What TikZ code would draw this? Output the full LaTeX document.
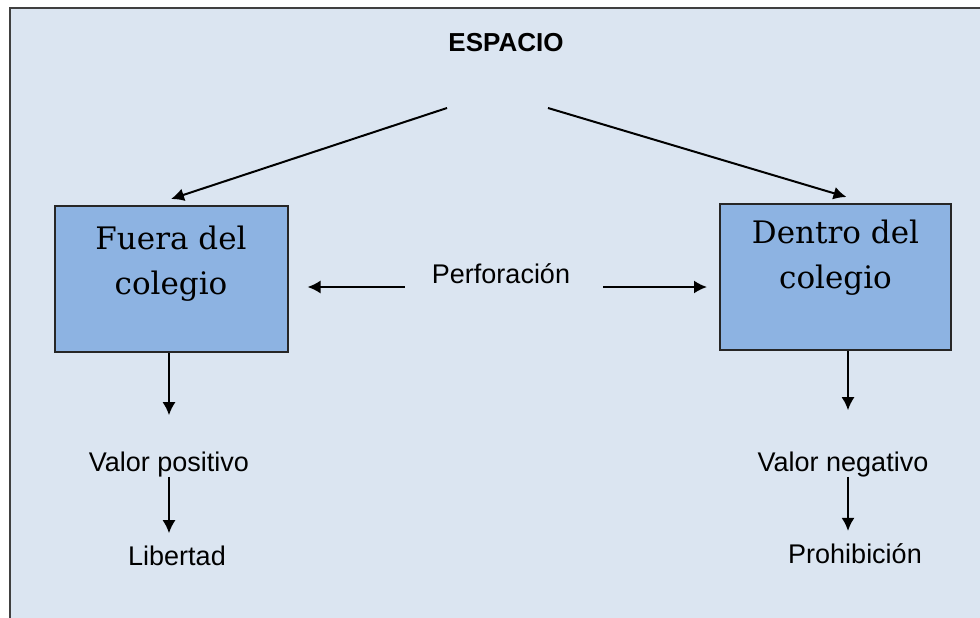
\documentclass[tikz,border=0pt]{standalone}
\usepackage{fontspec}
\setmainfont{Liberation Sans}
\newfontfamily\cajafont{DejaVu Serif}
\usepackage{tikz}
\usetikzlibrary{arrows.meta,positioning}
\definecolor{fondo}{HTML}{DBE5F1}
\definecolor{azulcaja}{HTML}{8DB3E2}

\begin{document}
\begin{tikzpicture}[x=1pt, y=-1pt,
    every node/.style={font=\fontsize{27}{32}\selectfont, inner sep=0pt},
    caja/.style={draw=black!85, line width=2pt, fill=azulcaja, minimum width=233pt, minimum height=146pt},
    cajatxt/.style={font=\cajafont\fontsize{31}{45}\selectfont, align=center, anchor=north},
    flecha/.style={-{Latex[length=13pt,width=13pt]}, line width=2pt}]
    \useasboundingbox (0,0) rectangle (980,618);
    \fill[white] (0,0) rectangle (980,618);
    \fill[fondo] (10,8) rectangle (980,618);
    \draw[black!75, line width=2.2pt] (10,620) -- (10,8) -- (982,8);
    % cajas
    \node[caja] (fuera) at (171,279) {};
    \node[cajatxt] (fueratxt) at ([yshift=-21pt]fuera.north) {Fuera del\\colegio};
    \node[caja, minimum width=231pt] (dentro) at (835.5,277) {};
    \node[cajatxt] (dentrotxt) at ([yshift=-17pt]dentro.north) {Dentro del\\colegio};
    % textos
    \node[anchor=base, font=\bfseries\fontsize{26}{30}\selectfont] (espacio) at (506,52) {ESPACIO};
    \node[anchor=base] (perf) at (501,283) {Perforación};
    \node[anchor=base] (vpos) at (169,471) {Valor positivo};
    \node[anchor=base] (lib) at (177,565) {Libertad};
    \node[anchor=base] (vneg) at (843,471) {Valor negativo};
    \node[anchor=base] (proh) at (855,563) {Prohibición};
    % flechas
    \coordinate (espL) at (447,108);
    \coordinate (espR) at (548,108);
    \draw[flecha] (espL) -- ([yshift=6pt]fuera.north);
    \draw[flecha] (espR) -- ([xshift=11pt,yshift=6pt]dentro.north);
    \coordinate (perfL) at ([shift={(-27pt,-4pt)}]perf.base west);
    \coordinate (perfR) at ([shift={(33pt,-4pt)}]perf.base east);
    \draw[flecha, shorten >=19pt] (perfL) -- (perfL -| fuera.east);
    \draw[flecha, shorten >=12pt] (perfR) -- (perfR -| dentro.west);
    \draw[flecha] (fuera.south -| vpos.north) -- ([yshift=36pt]vpos.north);
    \draw[flecha] (vpos.south) -- ([yshift=12pt]vpos.south |- lib.north);
    \draw[flecha] ([xshift=5pt]vneg.north |- dentro.south) -- ([shift={(5pt,41pt)}]vneg.north);
    \draw[flecha] ([xshift=5pt]vneg.south) -- ([shift={(5pt,12pt)}]vneg.south |- proh.north);
\end{tikzpicture}
\end{document}
